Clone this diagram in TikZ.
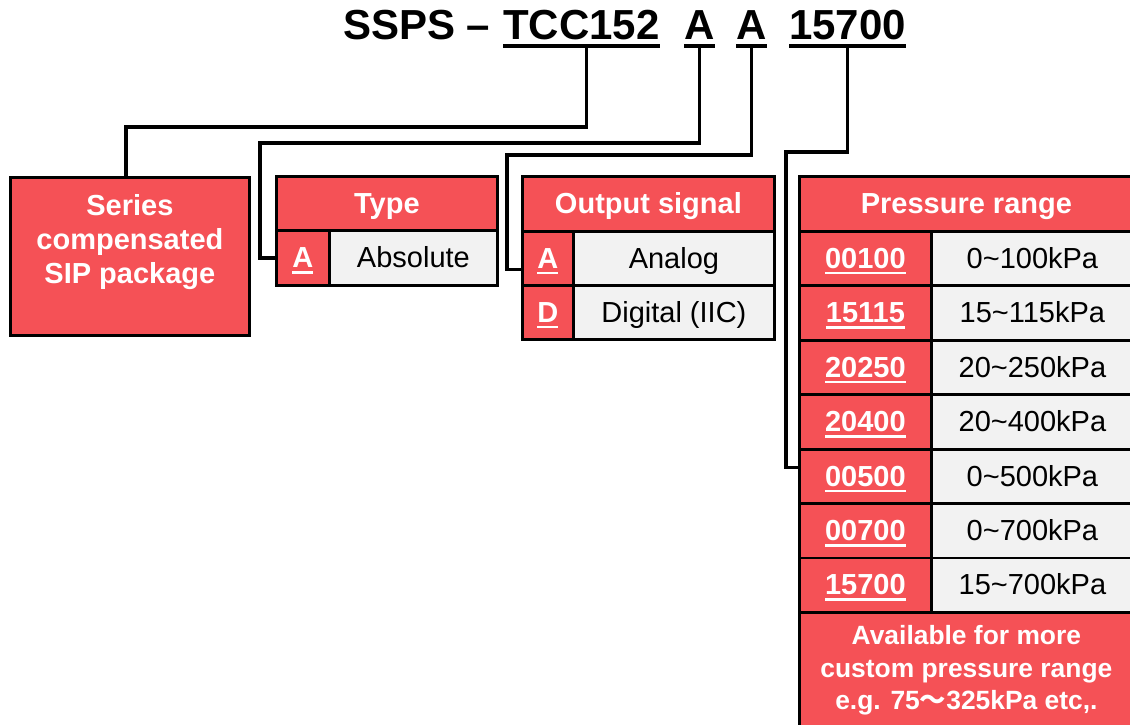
\documentclass[tikz,border=0pt]{standalone}
\usepackage{fontspec}
\setmainfont{Liberation Sans}
\newfontfamily\cjk{Noto Sans CJK SC}
\definecolor{boxred}{RGB}{245,81,86}
\definecolor{cellgray}{RGB}{242,242,242}
\newcommand\ulcode[1]{\setbox0\hbox{#1}\rlap{\rule[-6pt]{\wd0}{2.5pt}}\box0}
\tikzset{
  cellbase/.style={draw, line width=2.8pt, inner sep=0pt, anchor=north west, align=center},
  oneline/.style={text height=21pt, text depth=1.5pt},
  headbox/.style={cellbase, fill=boxred, text=white, font=\bfseries\fontsize{29}{34}\selectfont},
  codebox/.style={headbox, oneline},
  valbox/.style={cellbase, oneline, fill=cellgray, text=black, font=\fontsize{29}{34}\selectfont},
  wire/.style={line width=3.6pt},
  titlepart/.style={inner sep=0pt, anchor=base west, font=\bfseries\fontsize{42}{42}\selectfont}
}
\begin{document}
\begin{tikzpicture}[x=1pt,y=-1pt]
\useasboundingbox (0,0) rectangle (1130,725);
\clip (0,0) rectangle (1130,725);
% part number
\node[titlepart] (ssps) at (343,40) {SSPS –};
\node[titlepart] (tcc) at (503,40) {TCC152};
\node[titlepart] (ta) at (684,40) {A};
\node[titlepart] (tb) at (736,40) {A};
\node[titlepart] (tnum) at (789,40) {15700};
\foreach \n in {tcc,ta,tb,tnum}
  \draw[line width=4pt] ([yshift=-6pt]\n.base west) -- ([yshift=-6pt]\n.base east);
% series
\node[headbox, minimum width=239pt, minimum height=158pt] (series) at (9,176)
  {Series\\compensated\\SIP package\\\mbox{}};
% type
\node[headbox, oneline, minimum width=221pt, minimum height=54pt] (type) at (275,175) {Type};
\node[codebox, minimum width=53pt, minimum height=55pt] (typeA) at (275,229) {\ulcode{A}};
\node[valbox, minimum width=168pt, minimum height=55pt] (typeAv) at (328,229) {Absolute};
% output signal
\node[headbox, oneline, minimum width=252pt, minimum height=55pt] (out) at (521,175) {Output signal};
\node[codebox, minimum width=51pt, minimum height=54pt] (outA) at (521,230) {\ulcode{A}};
\node[valbox, minimum width=201pt, minimum height=54pt] (outAv) at (572,230) {Analog};
\node[codebox, minimum width=51pt, minimum height=54pt] (outD) at (521,284) {\ulcode{D}};
\node[valbox, minimum width=201pt, minimum height=54pt] (outDv) at (572,284) {Digital (IIC)};
% pressure range
\node[headbox, oneline, minimum width=334pt, minimum height=55pt] (pres) at (798,175) {Pressure range};
\foreach \pcode/\prange [count=\i] in {00100/0\textasciitilde100kPa, 15115/15\textasciitilde115kPa,
    20250/20\textasciitilde250kPa, 20400/20\textasciitilde400kPa, 00500/0\textasciitilde500kPa,
    00700/0\textasciitilde700kPa, 15700/15\textasciitilde700kPa} {
  \pgfmathsetmacro\ry{230+(\i-1)*54.43}
  \node[codebox, minimum width=132pt, minimum height=54.43pt] (p\i) at (798,\ry) {\ulcode{\pcode}};
  \node[valbox, minimum width=202pt, minimum height=54.43pt] (pv\i) at (930,\ry) {\prange};
}
\node[headbox, font=\bfseries\fontsize{26.4}{32.5}\selectfont, minimum width=334pt, minimum height=116pt] (more) at (798,611)
  {Available for more\\custom pressure range\\e.g. 75{\cjk ～}325kPa etc,.};
% connectors
\coordinate (k1) at (126,127);
\coordinate (k2) at (260,143);
\coordinate (k3) at (507,155);
\coordinate (k4) at (786,152);
\draw[wire] ([xshift=5pt,yshift=-6pt]tcc.base) |- (k1) -- (k1 |- series.north);
\draw[wire] ([yshift=-6pt]ta.base) |- (k2) |- (typeA.west);
\draw[wire] ([yshift=-6pt]tb.base) |- (k3) |- ([yshift=-11pt]outA.west);
\draw[wire] ([yshift=-6pt]tnum.base) |- (k4) |- ([yshift=9pt]p5.west);
\end{tikzpicture}
\end{document}
